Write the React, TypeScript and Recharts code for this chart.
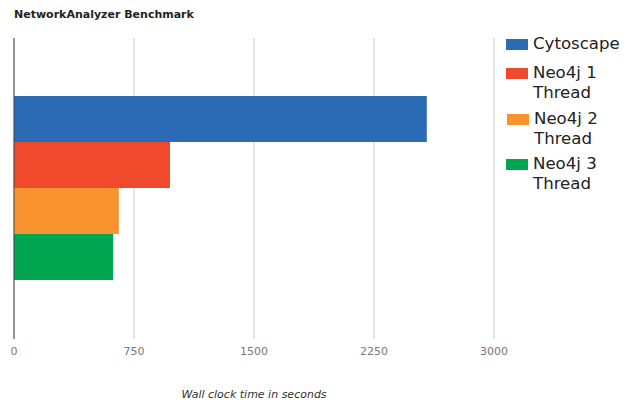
import React from "react";
import { BarChart, Bar, XAxis, YAxis, CartesianGrid, ReferenceLine } from "recharts";

const categories = ["NetworkAnalyzer"];
const seriesKeys = ["cytoscape", "neo1", "neo2", "neo3"];
const seriesNames = ["Cytoscape", "Neo4j 1 Thread", "Neo4j 2 Thread", "Neo4j 3 Thread"];
const seriesLabelLines = [["Cytoscape"], ["Neo4j 1", "Thread"], ["Neo4j 2", "Thread"], ["Neo4j 3", "Thread"]];
const seriesValues = [2580, 975, 655, 620];
const seriesColors = ["#2B6AB4", "#F04A2D", "#F8932F", "#00A550"];
const xTicks = [0, 750, 1500, 2250, 3000];

const data = categories.map((name) => {
  const row: Record<string, any> = { name };
  seriesKeys.forEach((k, i) => (row[k] = seriesValues[i]));
  return row;
});

const FONT = "'DejaVu Sans', sans-serif";
const legendTops = [34, 63, 109, 154];
const legendShift = [0, 0, 1, 0];

function LegendBlock() {
  return (
    <div style={{ position: "absolute", left: 506, top: 0, width: 125, height: 200, fontFamily: FONT }}>
      {seriesKeys.map((k, i) => (
        <div
          key={k}
          style={{ position: "absolute", left: legendShift[i], top: legendTops[i], display: "flex", alignItems: "flex-start" }}
        >
          <div style={{ width: 22, height: 11, background: seriesColors[i], marginTop: 5, marginRight: 5 }} />
          <div style={{ fontSize: 16.6, lineHeight: "20px", color: "#222", whiteSpace: "nowrap" }}>
            {seriesLabelLines[i].map((l, j) => (
              <div key={j}>{l}</div>
            ))}
          </div>
        </div>
      ))}
    </div>
  );
}

export default function App() {
  return (
    <div style={{ position: "absolute", left: 0, top: 0, width: 631, height: 402, background: "#fff" }}>
      <div
        style={{
          position: "absolute",
          left: 14,
          top: 8,
          fontFamily: FONT,
          fontWeight: "bold",
          fontSize: 11,
          color: "#222",
          lineHeight: "14px",
        }}
      >
        NetworkAnalyzer Benchmark
      </div>
      <BarChart
        width={631}
        height={402}
        data={data}
        layout="vertical"
        margin={{ top: 38, right: 137, bottom: 43, left: 14 }}
        barCategoryGap={58}
        barGap={0}
      >
        <CartesianGrid horizontal={false} stroke="#cccccc" strokeWidth={1} />
        <XAxis
          type="number"
          domain={[0, 3000]}
          ticks={xTicks}
          axisLine={false}
          tickLine={false}
          tick={{ fill: "#777", fontSize: 11, fontFamily: FONT }}
          tickMargin={2}
          height={20}
        />
        <YAxis type="category" dataKey="name" width={0} tick={false} tickLine={false} axisLine={false} />
        {seriesKeys.map((k, i) => (
          <Bar key={k} dataKey={k} name={seriesNames[i]} fill={seriesColors[i]} isAnimationActive={false} />
        ))}
        <ReferenceLine x={0} stroke="#444" strokeWidth={1} ifOverflow="extendDomain" />
      </BarChart>
      <LegendBlock />
      <div
        style={{
          position: "absolute",
          left: 14,
          width: 480,
          top: 388,
          textAlign: "center",
          fontFamily: FONT,
          fontStyle: "italic",
          fontSize: 11,
          color: "#333",
          lineHeight: "14px",
        }}
      >
        Wall clock time in seconds
      </div>
    </div>
  );
}
